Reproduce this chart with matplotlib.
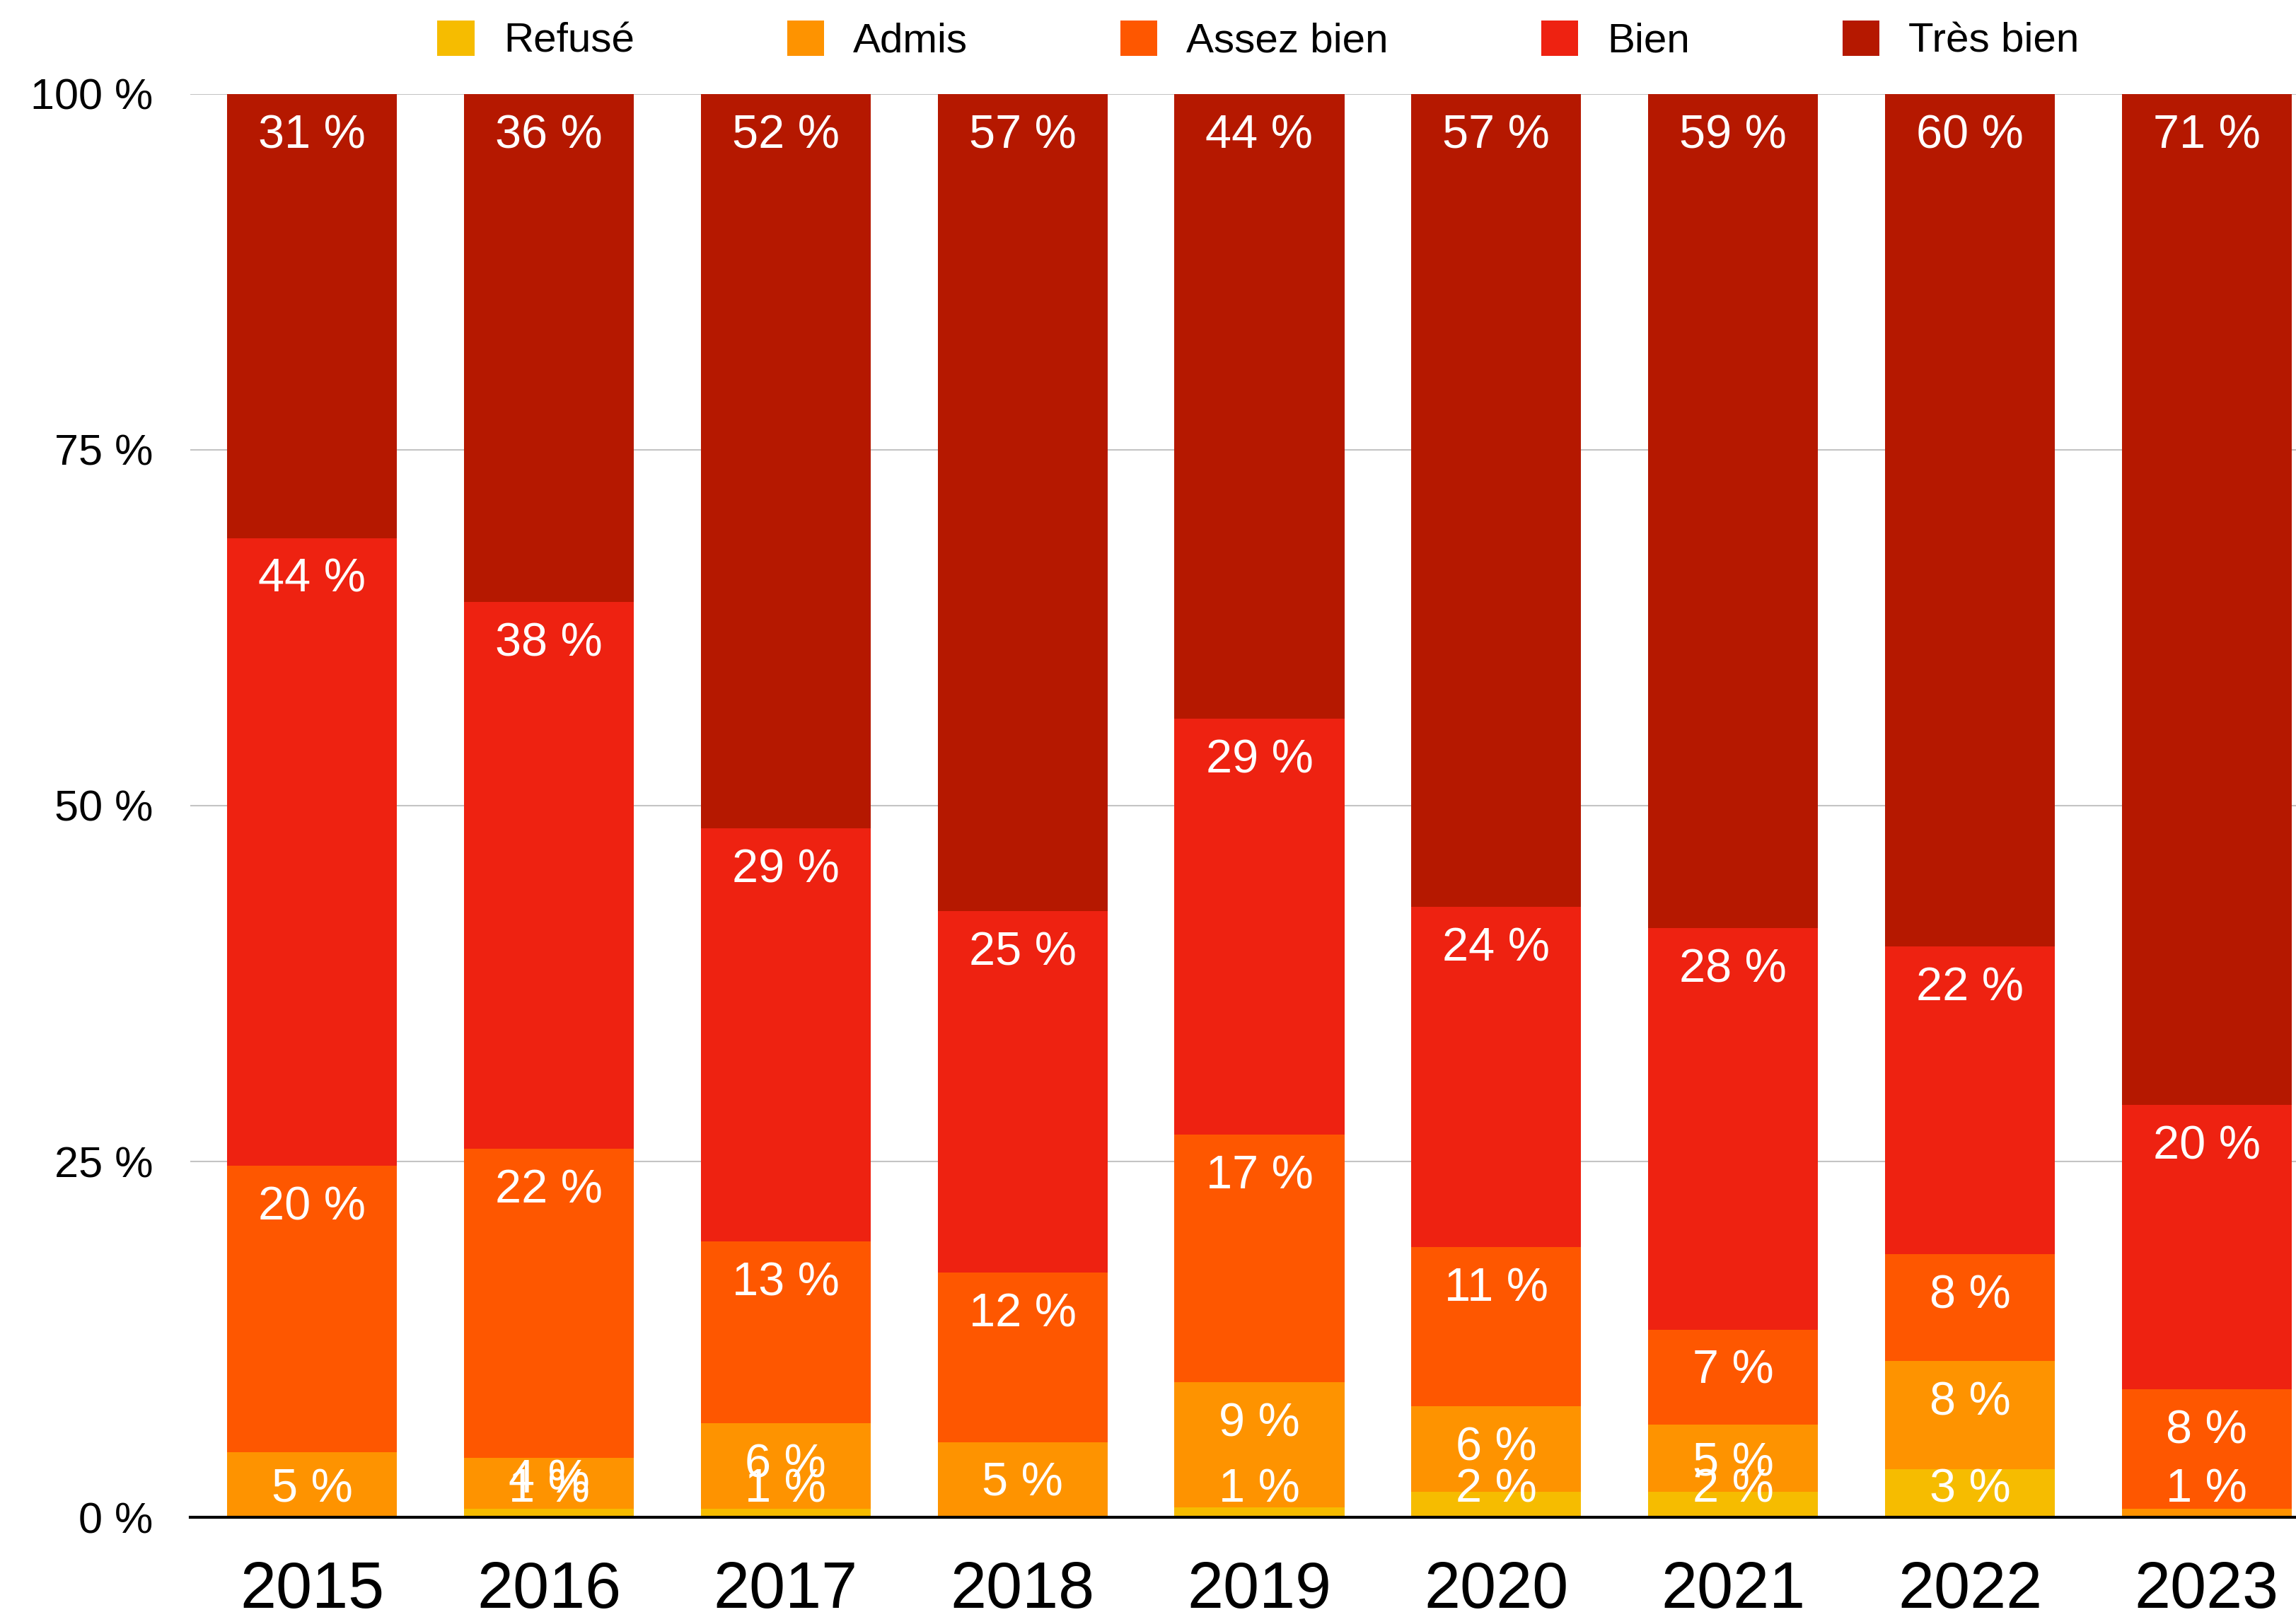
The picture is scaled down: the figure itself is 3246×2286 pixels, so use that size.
import numpy as np
import matplotlib
matplotlib.use('Agg')
import matplotlib.pyplot as plt
from matplotlib.patches import Patch

plt.rcParams['font.family'] = ['Liberation Sans', 'DejaVu Sans']

years = ["2015", "2016", "2017", "2018", "2019", "2020", "2021", "2022", "2023"]
mentions = ["Refusé", "Admis", "Assez bien", "Bien", "Très bien"]
colors = ["#F6BC00", "#FE9300", "#FE5700", "#EE2211", "#B51800"]

# shares in percent, one list per mention
refuse     = [0.0, 0.6, 0.6, 0.0, 0.7, 1.8, 1.8, 3.4, 0.0]
admis      = [4.6, 3.6, 6.0, 5.3, 8.8, 6.0, 4.7, 7.6, 0.6]
assez_bien = [20.1, 21.7, 12.8, 11.9, 17.4, 11.2, 6.7, 7.5, 8.4]
bien       = [44.1, 38.4, 29.0, 25.4, 29.2, 23.9, 28.2, 21.6, 20.0]
tres_bien  = [31.2, 35.7, 51.6, 57.4, 43.9, 57.1, 58.6, 59.9, 71.0]

series = [refuse, admis, assez_bien, bien, tres_bien]

fig = plt.figure(figsize=(32.46, 22.86), dpi=100)
ax = fig.add_axes([0.083, 0.0616, 0.917, 0.8804])

x = np.arange(len(years))
width = 0.717
bottom = np.zeros(len(years))
for vals, col in zip(series, colors):
    vals = np.array(vals)
    ax.bar(x, vals, width, bottom=bottom, color=col, zorder=2, linewidth=0)
    for i, v in enumerate(vals):
        if round(v) == 0:
            continue
        top = bottom[i] + v
        # label near the top of its segment, but kept off the baseline
        ypos = max(top - 3.8, bottom[i] + 1.1)
        ax.text(x[i], ypos, "%d %%" % round(v), ha="center", va="baseline",
                color="white", fontsize=48, zorder=3)
    bottom += vals

ax.set_xlim(-0.513, 8.377)
ax.set_ylim(0, 100)
ax.set_yticks([0, 25, 50, 75, 100])
ax.set_yticklabels(["0 %", "25 %", "50 %", "75 %", "100 %"], fontsize=44)
ax.set_xticks(x)
ax.set_xticklabels(years, fontsize=66)
ax.tick_params(axis="both", length=0)
ax.tick_params(axis="y", pad=38)
ax.tick_params(axis="x", pad=44)
ax.yaxis.grid(True, color="#c4c4c4", linewidth=1.5, zorder=0)
ax.set_axisbelow(True)
for s in ["top", "right", "left"]:
    ax.spines[s].set_visible(False)
ax.spines["bottom"].set_linewidth(3)
ax.spines["bottom"].set_zorder(4)

handles = [Patch(facecolor=c, edgecolor="none") for c in colors]
fig.legend(handles, mentions, loc="center", bbox_to_anchor=(0.548, 0.975),
           ncol=5, frameon=False, fontsize=42, handlelength=0.9, handleheight=0.95,
           handletextpad=0.7, columnspacing=3.7)

fig.savefig("out.png", dpi=100, facecolor="white")
